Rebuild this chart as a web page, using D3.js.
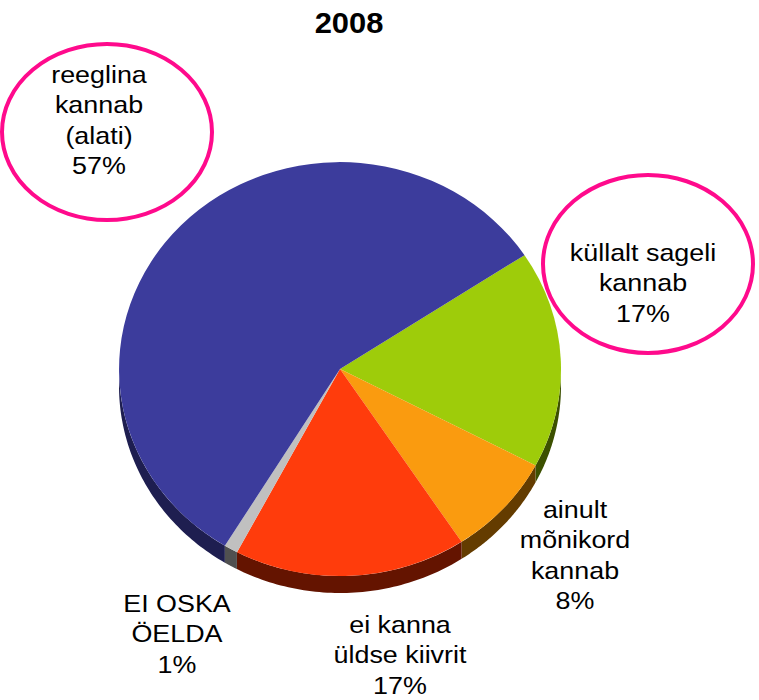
<!DOCTYPE html>
<html>
<head>
<meta charset="utf-8">
<script src="https://cdnjs.cloudflare.com/ajax/libs/d3/7.8.5/d3.min.js"></script>
<style>
  html, body { margin: 0; padding: 0; background: #fff; }
  svg { display: block; }
  text { font-family: "Liberation Sans", Arial, sans-serif; fill: #000; }
</style>
</head>
<body>
<svg id="chart" width="759" height="700"></svg>
<script>
// ---- data ----
const title = "2008";
const categories = ["küllalt sageli kannab", "ainult mõnikord kannab", "ei kanna üldse kiivrit", "EI OSKA ÖELDA", "reeglina kannab (alati)"];
const values = [17, 8, 17, 1, 57];
const labelLines = [
  ["küllalt sageli", "kannab", "17%"],
  ["ainult", "mõnikord", "kannab", "8%"],
  ["ei kanna", "üldse kiivrit", "17%"],
  ["EI OSKA", "ÖELDA", "1%"],
  ["reeglina", "kannab", "(alati)", "57%"]
];
const topColors  = ["#9ecc0a", "#fa9b0f", "#ff3c0c", "#c0c0c0", "#3c3c9c"];
const sideColors = ["#3c5000", "#643c00", "#641400", "#505050", "#1e1e50"];
const highlighted = [true, false, false, false, true];

// ---- layout ----
const svg = d3.select("#chart");
const cx = 340, cy = 369, rx = 221, ry = 207, depth = 17;
const startDeg = 56.6;
const toRad = d => d * Math.PI / 180;

svg.append("text")
  .attr("transform", "translate(349,33) scale(1.03,1)")
  .attr("text-anchor", "middle")
  .style("font-weight", "bold")
  .style("font-size", "30px")
  .text(title);

const pie = d3.pie().sort(null)
  .startAngle(toRad(startDeg))
  .endAngle(toRad(startDeg + 360));
const arcs = pie(values);

const g = svg.append("g").attr("transform", `translate(${cx},${cy})`);

// side walls (only front half: angles between 90° and 270°)
function sidePath(a0, a1) {
  const segs = [];
  [[a0, a1], [a0 - 2 * Math.PI, a1 - 2 * Math.PI]].forEach(([s, e]) => {
    const l = Math.max(s, Math.PI / 2), h = Math.min(e, 3 * Math.PI / 2);
    if (h > l) segs.push([l, h]);
  });
  return segs.map(([l, h]) => {
    const n = 60;
    const ts = d3.range(n + 1).map(i => l + (h - l) * i / n);
    const topPts = ts.map(t => [rx * Math.sin(t), -ry * Math.cos(t)]);
    const botPts = ts.slice().reverse().map(t => [rx * Math.sin(t), -ry * Math.cos(t) + depth]);
    return d3.line()(topPts.concat(botPts)) + "Z";
  }).join(" ");
}

g.selectAll("path.side")
  .data(arcs)
  .join("path")
  .attr("class", "side")
  .attr("d", d => sidePath(d.startAngle, d.endAngle))
  .attr("fill", (d, i) => sideColors[i]);

const arcGen = d3.arc().innerRadius(0).outerRadius(1);
g.append("g").attr("transform", `scale(${rx},${ry})`)
  .selectAll("path.top")
  .data(arcs)
  .join("path")
  .attr("class", "top")
  .attr("d", arcGen)
  .attr("fill", (d, i) => topColors[i]);

// highlight ellipses
const ellipses = [
  { idx: 4, x: 107, y: 132, rx: 105, ry: 88 },
  { idx: 0, x: 648, y: 264, rx: 105, ry: 89 }
];
svg.selectAll("ellipse.hl")
  .data(ellipses.filter(e => highlighted[e.idx]))
  .join("ellipse")
  .attr("class", "hl")
  .attr("cx", d => d.x).attr("cy", d => d.y)
  .attr("rx", d => d.rx).attr("ry", d => d.ry)
  .attr("fill", "none")
  .attr("stroke", "#ff0a8c")
  .attr("stroke-width", 4);

// labels
const labelPos = [
  { x: 643, y: 261 },
  { x: 575, y: 518 },
  { x: 400, y: 633 },
  { x: 177, y: 612 },
  { x: 99, y: 83 }
];
const lineH = 30.5;
labelLines.forEach((lines, i) => {
  const t = svg.append("text")
    .attr("transform", `translate(${labelPos[i].x},${labelPos[i].y}) scale(1.12,1)`)
    .attr("text-anchor", "middle")
    .style("font-size", "24px");
  lines.forEach((ln, j) => {
    t.append("tspan")
      .attr("x", 0)
      .attr("y", j * lineH)
      .text(ln);
  });
});
</script>
</body>
</html>
